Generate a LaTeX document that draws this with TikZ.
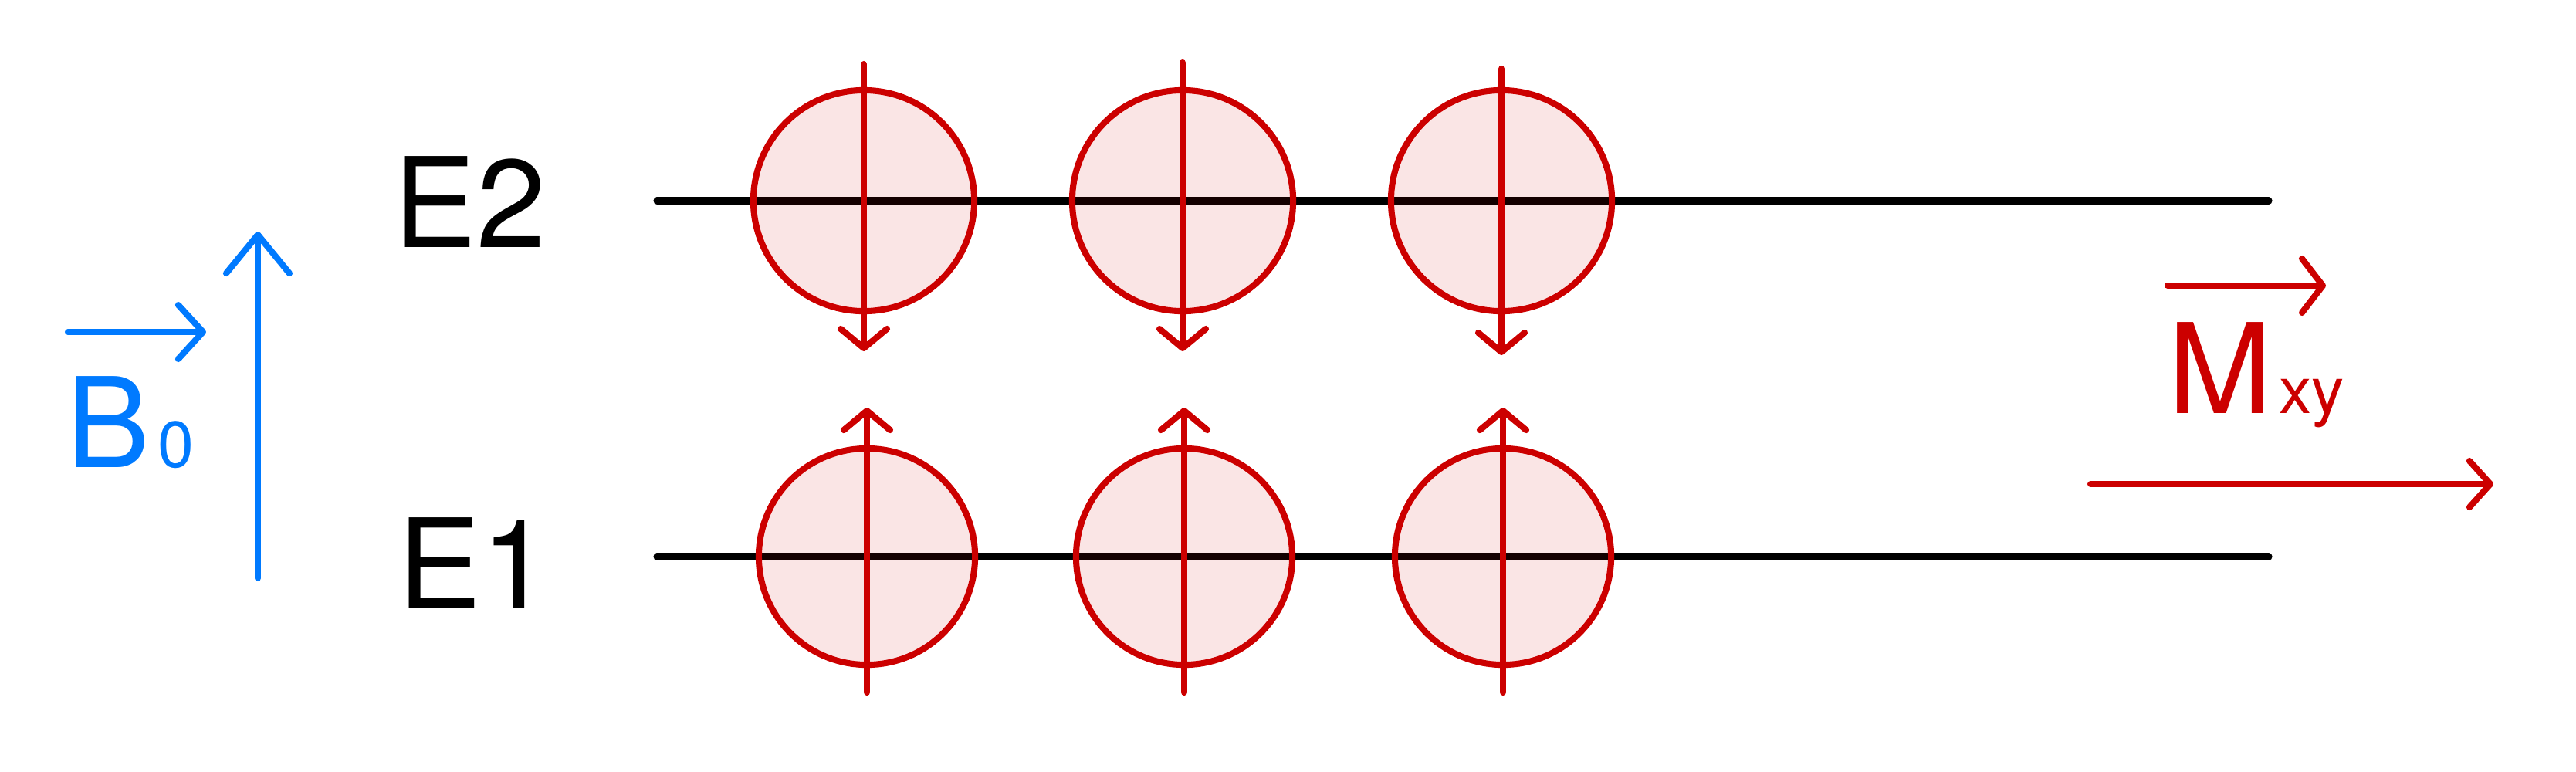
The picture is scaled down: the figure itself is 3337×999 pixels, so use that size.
\documentclass[tikz,border=0pt]{standalone}
\usepackage{fontspec}
\setmainfont{TeX Gyre Heros}
\usetikzlibrary{arrows.meta}
\definecolor{spinred}{RGB}{204,0,0}
\definecolor{fieldblue}{RGB}{0,122,255}

\begin{document}
\begin{tikzpicture}[x=0.01cm,y=-0.01cm,
    level/.style={line width=2.6pt,line cap=round},
    spin/.style={draw=spinred,line width=2.3pt,fill=spinred,fill opacity=0.1},
    vec/.style={line width=2.3pt,line cap=round,-{Straight Barb[length=0.25cm,width=0.6cm,round]}},
    lbl/.style={anchor=base west,inner sep=0pt,font=\fontsize{46}{48}\selectfont}]
  \useasboundingbox (0,0) rectangle (3337,999);
  % energy levels
  \coordinate (E2a) at (851,260);
  \coordinate (E2b) at (2939,260);
  \coordinate (E1a) at (851,721);
  \coordinate (E1b) at (2939,721);
  \draw[level] (E2a) -- (E2b);
  \draw[level] (E1a) -- (E1b);
  \node[lbl] (e2) at (509,320) {E2};
  \node[lbl] (e1) at (515,788) {E1};
  % spins on E2 (down) and E1 (up)
  \foreach \x/\ya/\yb in {1119/83/455,1532/81/455,1945/89/460}{
    \draw[spin] (\x,260) circle (1.43cm);
    \draw[vec,spinred] (\x,\ya) -- (\x,\yb);
  }
  \foreach \x in {1123,1534,1947}{
    \draw[spin] (\x,721) circle (1.40cm);
    \draw[vec,spinred] (\x,897) -- (\x,528);
  }
  % static field
  \coordinate (bfoot) at (334,749);
  \coordinate (bhead) at (334,300);
  \draw[vec,fieldblue,-{Straight Barb[length=0.5cm,width=0.82cm,round]}] (bfoot) -- (bhead);
  \node[lbl,text=fieldblue] (b0) at (86,605)
    {B\kern0.095cm\fontsize{24}{26}\selectfont 0};
  \coordinate (bvl) at (88,430);
  \coordinate (bvr) at (267,430);
  \draw[vec,fieldblue,-{Straight Barb[length=0.32cm,width=0.7cm,round]}] (bvl) -- (bvr);
  % transverse magnetisation
  \node[lbl,text=spinred] (mxy) at (2808,535)
    {M\kern0.09cm\fontsize{24}{26}\selectfont xy};
  \coordinate (mvl) at (2808,370);
  \coordinate (mvr) at (3013,370);
  \draw[vec,spinred,-{Straight Barb[length=0.27cm,width=0.7cm,round]}] (mvl) -- (mvr);
  \coordinate (mxa) at (2708,627);
  \coordinate (mxb) at (3230,627);
  \draw[vec,spinred,-{Straight Barb[length=0.27cm,width=0.6cm,round]}] (mxa) -- (mxb);
\end{tikzpicture}
\end{document}
